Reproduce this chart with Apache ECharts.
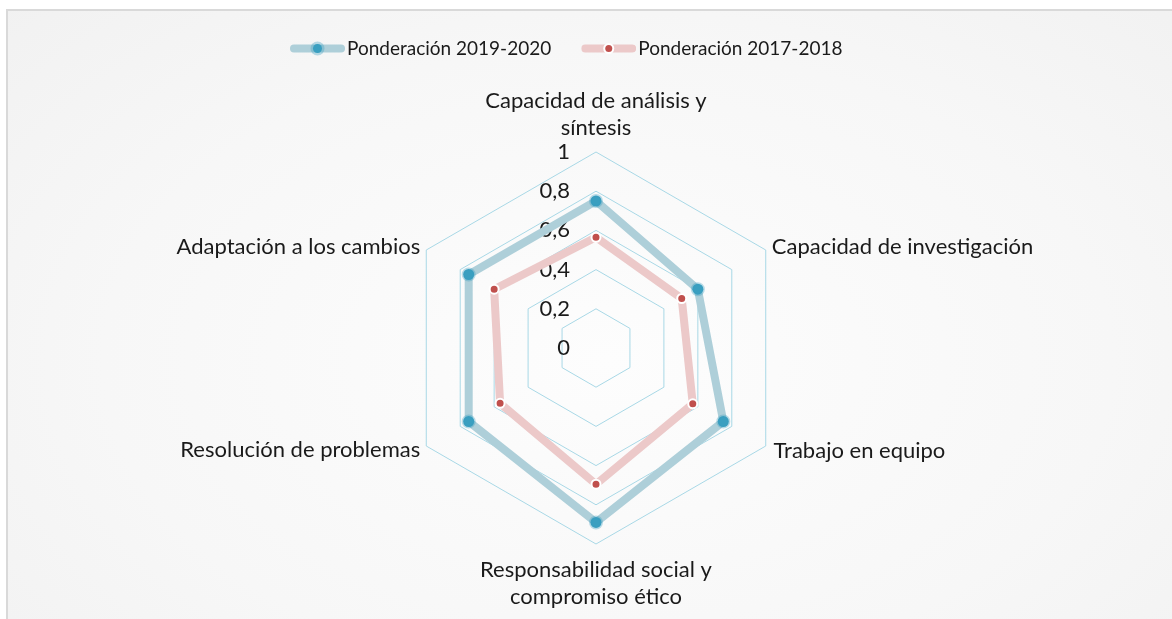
<!DOCTYPE html>
<html>
<head>
<meta charset="utf-8">
<script src="https://cdn.jsdelivr.net/npm/echarts@6/dist/echarts.min.js"></script>
<style>
  html, body { margin: 0; padding: 0; background: #ffffff; }
  #frame {
    position: absolute; left: 6px; top: 9px; width: 1200px; height: 700px;
    border-left: 2px solid #d9d9d9; border-top: 2px solid #d9d9d9;
    background: radial-gradient(ellipse 70% 75% at 50% 50%, #fdfdfd 0%, #f7f7f7 60%, #f1f1f1 100%);
  }
  #chart { position: absolute; left: 0; top: 0; width: 1172px; height: 619px; }
</style>
</head>
<body>
<div id="frame"></div>
<div id="chart"></div>
<script>
// Competencias, listed in drawing order starting at the top
const competencias = [
  'Capacidad de análisis y\nsíntesis',
  'Adaptación a los cambios',
  'Resolución de problemas',
  'Responsabilidad social y\ncompromiso ético',
  'Trabajo en equipo',
  'Capacidad de investigación'
];
const serieNombres = ['Ponderación 2019-2020', 'Ponderación 2017-2018'];
const ponderacion2019 = [0.75, 0.75, 0.75, 0.89, 0.75, 0.60];
const ponderacion2017 = [0.565, 0.60, 0.565, 0.695, 0.57, 0.505];
const escalaMax = 1;
const escalaPasos = 5;

const FONT = 'Lato, "Open Sans", sans-serif';
const TEXT = '#1a1a1a';

function svgIcon(lineColor, parts) {
  const svg = '<svg xmlns="http://www.w3.org/2000/svg" width="55" height="16" viewBox="0 0 55 16">' +
    '<rect x="0" y="4" width="55" height="8" rx="4" fill="' + lineColor + '"/>' + parts + '</svg>';
  return 'image://data:image/svg+xml;charset=utf-8,' + encodeURIComponent(svg);
}
const iconAzul = svgIcon('#aecfd9',
  '<circle cx="27.5" cy="8" r="7" fill="#3a9fc0" fill-opacity="0.35"/><circle cx="27.5" cy="8" r="4.5" fill="#3a9fc0"/>');
const iconRojo = svgIcon('#ecc9c9',
  '<circle cx="27.5" cy="8" r="5.5" fill="#ffffff"/><circle cx="27.5" cy="8" r="3.5" fill="#c0504d"/>');

const chart = echarts.init(document.getElementById('chart'), null, { renderer: 'canvas' });

// gaps between each vertex and its name
const nameGaps = [9, 7, 7, 12, 9, 7];

const indicators = competencias.map(function (name, i) {
  const ind = { name: name, min: 0, max: escalaMax, nameGap: nameGaps[i] };
  if (i === 0) {
    ind.axisLabel = { show: true };
  }
  return ind;
});

chart.setOption({
  animation: false,
  backgroundColor: 'transparent',
  textStyle: { fontFamily: FONT, color: TEXT },
  legend: {
    left: 285,
    top: 34,
    itemGap: 30,
    itemWidth: 55,
    itemHeight: 16,
    textStyle: { fontFamily: FONT, fontSize: 19, color: TEXT, padding: [0, 0, 0, -3] },
    data: [
      { name: serieNombres[0], icon: iconAzul },
      { name: serieNombres[1], icon: iconRojo }
    ]
  },
  radar: {
    center: [596, 348],
    radius: 196,
    startAngle: 90,
    splitNumber: escalaPasos,
    shape: 'polygon',
    indicator: indicators,
    axisName: {
      color: TEXT,
      fontFamily: FONT,
      fontSize: 22,
      lineHeight: 27
    },
    axisLine: { show: false },
    axisTick: { show: false },
    axisLabel: {
      show: false,
      margin: 26,
      color: TEXT,
      fontFamily: FONT,
      fontSize: 22,
      formatter: function (v) { return String(+v.toFixed(1)).replace('.', ','); }
    },
    splitLine: { lineStyle: { color: '#a8d8e6', width: 1 } },
    splitArea: { show: false }
  },
  series: [
    {
      name: serieNombres[0],
      type: 'radar',
      symbol: 'circle',
      symbolSize: 11,
      lineStyle: { color: '#aecfd9', width: 8, opacity: 1 },
      itemStyle: { color: '#3a9fc0', borderColor: 'rgba(58,159,192,0.35)', borderWidth: 3 },
      data: [{ name: serieNombres[0], value: ponderacion2019 }]
    },
    {
      name: serieNombres[1],
      type: 'radar',
      symbol: 'circle',
      symbolSize: 9,
      lineStyle: { color: '#ecc9c9', width: 8, opacity: 1 },
      itemStyle: { color: '#c0504d', borderColor: '#ffffff', borderWidth: 2 },
      data: [{ name: serieNombres[1], value: ponderacion2017 }]
    }
  ]
});
</script>
</body>
</html>
